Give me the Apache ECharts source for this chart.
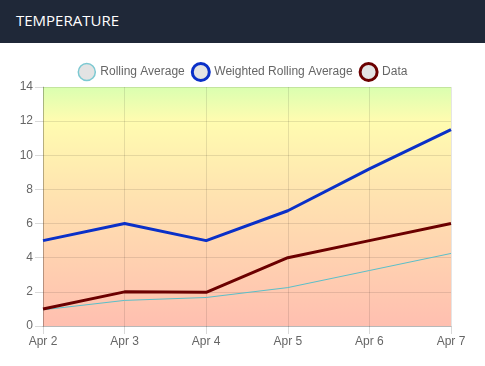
<!DOCTYPE html>
<html><head><meta charset="utf-8">
<script src="https://cdn.jsdelivr.net/npm/echarts@6/dist/echarts.min.js"></script>
<style>
html,body{margin:0;padding:0;width:485px;height:366px;background:#fff;font-family:"Open Sans",sans-serif;overflow:hidden}
#hdr{height:43px;background:#1f2838;color:#fff;font-size:15px;line-height:40px;padding-left:16px}
#c{position:absolute;left:0;top:0;width:485px;height:366px}
</style></head><body>
<div id="hdr">TEMPERATURE</div>
<div id="c"></div>
<script>
const categories = ["Apr 2","Apr 3","Apr 4","Apr 5","Apr 6","Apr 7"];
const rollingAverage = [0.95, 1.5, 1.67, 2.25, 3.25, 4.25];
const weightedRollingAverage = [5, 6, 5, 6.75, 9.2, 11.5];
const dataValues = [1, 2, 1.97, 4, 5, 6];
const yTicks = [0,2,4,6,8,10,12,14];

const chart = echarts.init(document.getElementById('c'));
chart.setOption({
  animation:false,
  legend:{
    top:57, left:'center', itemWidth:17, itemHeight:17, itemGap:6,
    textStyle:{color:'#666',fontSize:12,fontFamily:'Liberation Sans, Arial'},
    data:[
      {name:'Rolling Average',icon:'circle',itemStyle:{color:'#e3e3e3',borderColor:'#7cc9d2',borderWidth:1.5}},
      {name:'Weighted Rolling Average',icon:'circle',itemStyle:{color:'#e3e3e3',borderColor:'#0a30c8',borderWidth:3}},
      {name:'Data',icon:'circle',itemStyle:{color:'#e3e3e3',borderColor:'#6b0000',borderWidth:3}}
    ]
  },
  grid:{
    left:43, right:34, top:87, bottom:40, show:true, borderWidth:0,
    backgroundColor:new echarts.graphic.LinearGradient(0,0,0,1,[
      {offset:0,color:'#daffb0'},
      {offset:0.14,color:'#fffcb0'},
      {offset:0.45,color:'#ffe3b0'},
      {offset:1,color:'#ffbfb0'}
    ])
  },
  xAxis:{
    type:'category', data:categories, boundaryGap:false,
    axisLine:{show:true,lineStyle:{color:'rgba(0,0,0,0.2)'}},
    axisTick:{show:true,length:8,lineStyle:{color:'rgba(0,0,0,0.15)'}},
    axisLabel:{color:'#666',fontSize:12,fontFamily:'Liberation Sans, Arial',margin:10},
    splitLine:{show:true,lineStyle:{color:'rgba(0,0,0,0.1)'}}
  },
  yAxis:{
    type:'value', min:yTicks[0], max:yTicks[yTicks.length-1], interval:2,
    axisLine:{show:true,lineStyle:{color:'rgba(0,0,0,0.2)'}},
    axisTick:{show:true,length:8,lineStyle:{color:'rgba(0,0,0,0.15)'}},
    axisLabel:{color:'#666',fontSize:12,fontFamily:'Liberation Sans, Arial',margin:10},
    splitLine:{show:true,lineStyle:{color:'rgba(0,0,0,0.1)'}}
  },
  series:[
    {name:'Rolling Average',type:'line',data:rollingAverage,showSymbol:false,symbol:'none',
      lineStyle:{color:'#5bbfc9',width:1},itemStyle:{color:'#5bbfc9'}},
    {name:'Weighted Rolling Average',type:'line',data:weightedRollingAverage,showSymbol:false,symbol:'none',
      lineStyle:{color:'#0a30c8',width:3},itemStyle:{color:'#0a30c8'}},
    {name:'Data',type:'line',data:dataValues,showSymbol:false,symbol:'none',
      lineStyle:{color:'#6b0000',width:3},itemStyle:{color:'#6b0000'}}
  ]
});
</script>
</body></html>
